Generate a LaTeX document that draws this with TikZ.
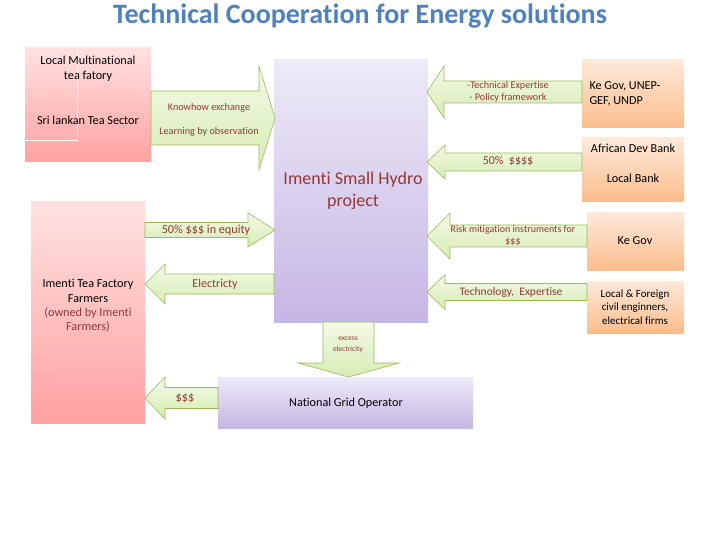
\documentclass[tikz,border=0pt]{standalone}
\usepackage{fontspec}
\setmainfont{Carlito}[Ligatures=NoCommon]
\usepackage{xcolor}
\usetikzlibrary{positioning}
\definecolor{titleblue}{HTML}{4F81BD}
\definecolor{arrowred}{HTML}{953735}
\definecolor{arrowline}{HTML}{9BBB59}
\definecolor{pinktop}{HTML}{FFE1E1}
\definecolor{pinkbottom}{HTML}{FFA1A1}
\definecolor{lilactop}{HTML}{EEEAF8}
\definecolor{lilacbottom}{HTML}{C6B6E4}
\definecolor{peachtop}{HTML}{FDE9DA}
\definecolor{peachbottom}{HTML}{FBBD8C}
\definecolor{greentop}{HTML}{F3FAE7}
\definecolor{greenbottom}{HTML}{D6ECB3}
\newcommand{\fsz}[2]{\fontsize{#1}{#2}\selectfont}
% block arrow: tip x, mid y, head base x, tail x, head half height, body half height
\newcommand{\blockarrow}[6]{%
  \draw[greenarrow] (#1,#2) -- ({#3},{#2-#5}) -- ({#3},{#2-#6}) -- ({#4},{#2-#6})
    -- ({#4},{#2+#6}) -- ({#3},{#2+#6}) -- ({#3},{#2+#5}) -- cycle;}

\begin{document}
\begin{tikzpicture}[x=1pt,y=-1pt,
  box/.style={anchor=north west,inner sep=0pt,outer sep=0pt},
  pinkbox/.style={box,top color=pinktop,bottom color=pinkbottom},
  purplebox/.style={box,top color=lilactop,bottom color=lilacbottom},
  orangebox/.style={box,top color=peachtop,bottom color=peachbottom},
  greenarrow/.style={draw=arrowline,line width=0.6pt,top color=greentop,bottom color=greenbottom},
  boxtext/.style={align=center,font=\fsz{12.2}{15}},
  arrowtext/.style={align=center,text=arrowred,font=\fsz{10.2}{12.5}}]
  \useasboundingbox (0,0) rectangle (720,540);

  % title
  \node[text=titleblue,font=\fsz{28}{32}\bfseries] (title) at (360,16) {Technical Cooperation for Energy solutions};

  % boxes
  \node[pinkbox,minimum width=126pt,minimum height=114pt] (srilanka) at (25,48) {};
  \draw[white,line width=0.8pt] (77,48) -- (77,140) -- (25,140);
  \node[pinkbox,minimum width=114pt,minimum height=221pt] (imenti) at (31,202) {};
  \node[purplebox,minimum width=154pt,minimum height=262pt] (hydro) at (274,60) {};
  \node[purplebox,minimum width=255pt,minimum height=51pt] (grid) at (218,377) {};
  \node[orangebox,minimum width=102pt,minimum height=68pt] (kegov) at (582,60) {};
  \node[orangebox,minimum width=102pt,minimum height=64pt] (banks) at (582,138) {};
  \node[orangebox,minimum width=97pt,minimum height=57pt] (kegovrisk) at (587,213) {};
  \node[orangebox,minimum width=97pt,minimum height=52pt] (engineers) at (587,281) {};

  % arrows
  \blockarrow{275}{118}{259}{151}{52}{27}
  \blockarrow{275}{230}{248}{145}{17}{7.5}
  \blockarrow{145}{284}{165}{274}{20}{10}
  \blockarrow{145}{398}{165}{218}{21}{10.5}
  \blockarrow{427}{92}{444}{582}{26}{11}
  \blockarrow{427}{162}{445}{582}{17}{9}
  \blockarrow{427}{236}{450}{587}{23}{11}
  \blockarrow{427}{292}{445}{587}{17.5}{8.5}
  \draw[greenarrow] (323,322) -- (374,322) -- (374,363) -- (399,363) -- (348.5,377)
    -- (298,363) -- (323,363) -- cycle;

  % texts
  \node[boxtext] (multinational) at (88,69) {Local Multinational\\tea fatory};
  \node[boxtext] (srilankalabel) at (88,120) {Sri lankan Tea Sector};
  \node[arrowtext] (knowhow) at (209,108) {Knowhow exchange};
  \node[arrowtext] (learning) at (209,132) {Learning by observation};
  \node[align=center,text=arrowred,font=\fsz{18}{21.5}] (hydrolabel) at (353,191) {Imenti Small Hydro\\project};
  \node[arrowtext] (expertise) at (508,92) {-Technical Expertise\\ - Policy framework};
  \node[boxtext,align=left,anchor=west] (kegovlabel) at (586,94) {Ke Gov, UNEP-\\GEF, UNDP};
  \node[arrowtext,font=\fsz{12}{14}] (loan) at (508,161) {50\%\ \ \$\$\$\$};
  \node[boxtext] (afdb) at (633,148) {African Dev Bank};
  \node[boxtext] (localbank) at (633,178) {Local Bank};
  \node[arrowtext,font=\fsz{10}{12}] (risk) at (513,236) {Risk mitigation instruments for\\\$\$\$};
  \node[boxtext] (kegovrisklabel) at (635,241) {Ke Gov};
  \node[arrowtext,font=\fsz{11.5}{13}] (technology) at (511,292) {Technology,\ \ Expertise};
  \node[boxtext,font=\fsz{11}{13.7}] (engineerslabel) at (635,307) {Local \& Foreign\\civil enginners,\\electrical firms};
  \node[arrowtext,font=\fsz{12.2}{14}] (equity) at (206,230) {50\% \$\$\$ in equity};
  \node[arrowtext,font=\fsz{12}{14}] (electricity) at (215,284) {Electricty};
  \node[boxtext,font=\fsz{12.2}{14.5}] (imentilabel) at (88,291) {Imenti Tea Factory\\Farmers};
  \node[boxtext,text=arrowred,font=\fsz{12.2}{14.5}] (owned) at (88,320) {(owned by Imenti\\Farmers)};
  \node[arrowtext,font=\fsz{12.4}{14}] (payment) at (185,398) {\$\$\$};
  \node[arrowtext,font=\fsz{7.5}{11}] (excess) at (348,345) {excess\\electricity};
  \node[boxtext] (gridlabel) at (346,403) {National Grid Operator};
\end{tikzpicture}
\end{document}
